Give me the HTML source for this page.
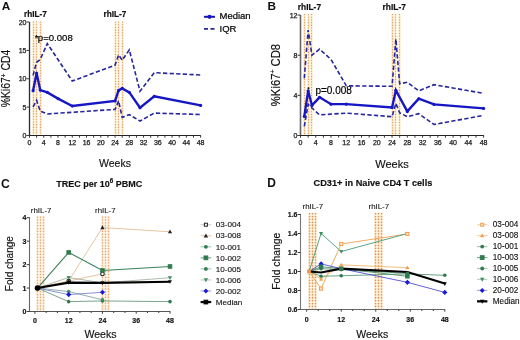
<!DOCTYPE html>
<html><head><meta charset="utf-8"><style>
html,body{margin:0;padding:0;background:#fff;width:520px;height:340px;overflow:hidden}
svg{display:block;will-change:transform}
text{font-family:"Liberation Sans", sans-serif;-webkit-font-smoothing:antialiased}
</style></head><body>
<svg width="520" height="340" viewBox="0 0 520 340">
<rect width="520" height="340" fill="#fff"/>
<text x="1.8" y="9.6" font-size="11.8" text-anchor="start" font-weight="bold" fill="#111" >A</text>
<text x="24" y="17.2" font-size="8.2" text-anchor="start" font-weight="bold" fill="#111" stroke="#111" stroke-width="0.2">rhIL-7</text>
<text x="103.6" y="17.2" font-size="8.2" text-anchor="start" font-weight="bold" fill="#111" stroke="#111" stroke-width="0.2">rhIL-7</text>
<line x1="33.5" y1="21.5" x2="33.5" y2="135.5" stroke="#fff6e4" stroke-width="3"/>
<line x1="33.5" y1="21.5" x2="33.5" y2="135.5" stroke="#fde4c4" stroke-width="1.0"/>
<line x1="33.5" y1="21.5" x2="33.5" y2="135.5" stroke="#e0a060" stroke-width="1.3" stroke-dasharray="1.1 1.6"/>
<line x1="36.5" y1="21.5" x2="36.5" y2="135.5" stroke="#fff6e4" stroke-width="3"/>
<line x1="36.5" y1="21.5" x2="36.5" y2="135.5" stroke="#fde4c4" stroke-width="1.0"/>
<line x1="36.5" y1="21.5" x2="36.5" y2="135.5" stroke="#e0a060" stroke-width="1.3" stroke-dasharray="1.1 1.6"/>
<line x1="40.5" y1="21.5" x2="40.5" y2="135.5" stroke="#fff6e4" stroke-width="3"/>
<line x1="40.5" y1="21.5" x2="40.5" y2="135.5" stroke="#fde4c4" stroke-width="1.0"/>
<line x1="40.5" y1="21.5" x2="40.5" y2="135.5" stroke="#e0a060" stroke-width="1.3" stroke-dasharray="1.1 1.6"/>
<line x1="115.5" y1="21.5" x2="115.5" y2="135.5" stroke="#fff6e4" stroke-width="3"/>
<line x1="115.5" y1="21.5" x2="115.5" y2="135.5" stroke="#fde4c4" stroke-width="1.0"/>
<line x1="115.5" y1="21.5" x2="115.5" y2="135.5" stroke="#e0a060" stroke-width="1.3" stroke-dasharray="1.1 1.6"/>
<line x1="118.5" y1="21.5" x2="118.5" y2="135.5" stroke="#fff6e4" stroke-width="3"/>
<line x1="118.5" y1="21.5" x2="118.5" y2="135.5" stroke="#fde4c4" stroke-width="1.0"/>
<line x1="118.5" y1="21.5" x2="118.5" y2="135.5" stroke="#e0a060" stroke-width="1.3" stroke-dasharray="1.1 1.6"/>
<line x1="122.5" y1="21.5" x2="122.5" y2="135.5" stroke="#fff6e4" stroke-width="3"/>
<line x1="122.5" y1="21.5" x2="122.5" y2="135.5" stroke="#fde4c4" stroke-width="1.0"/>
<line x1="122.5" y1="21.5" x2="122.5" y2="135.5" stroke="#e0a060" stroke-width="1.3" stroke-dasharray="1.1 1.6"/>
<line x1="29.5" y1="22" x2="29.5" y2="136" stroke="#2a2a2a" stroke-width="1.3" />
<line x1="29" y1="135.5" x2="200.9" y2="135.5" stroke="#222" stroke-width="1.2" />
<line x1="26.5" y1="135.5" x2="29.5" y2="135.5" stroke="#3a3a3a" stroke-width="1" />
<text x="26.5" y="138" font-size="7" text-anchor="end" font-weight="normal" fill="#1a1a1a" stroke="#1a1a1a" stroke-width="0.25">0</text>
<line x1="26.5" y1="107.12" x2="29.5" y2="107.12" stroke="#3a3a3a" stroke-width="1" />
<text x="26.5" y="109.62" font-size="7" text-anchor="end" font-weight="normal" fill="#1a1a1a" stroke="#1a1a1a" stroke-width="0.25">5</text>
<line x1="26.5" y1="78.75" x2="29.5" y2="78.75" stroke="#3a3a3a" stroke-width="1" />
<text x="26.5" y="81.25" font-size="7" text-anchor="end" font-weight="normal" fill="#1a1a1a" stroke="#1a1a1a" stroke-width="0.25">10</text>
<line x1="26.5" y1="50.38" x2="29.5" y2="50.38" stroke="#3a3a3a" stroke-width="1" />
<text x="26.5" y="52.88" font-size="7" text-anchor="end" font-weight="normal" fill="#1a1a1a" stroke="#1a1a1a" stroke-width="0.25">15</text>
<line x1="26.5" y1="22" x2="29.5" y2="22" stroke="#3a3a3a" stroke-width="1" />
<text x="26.5" y="24.5" font-size="7" text-anchor="end" font-weight="normal" fill="#1a1a1a" stroke="#1a1a1a" stroke-width="0.25">20</text>
<line x1="29.5" y1="135.5" x2="29.5" y2="137.7" stroke="#3a3a3a" stroke-width="1" />
<line x1="36.63" y1="135.5" x2="36.63" y2="137.7" stroke="#3a3a3a" stroke-width="1" />
<line x1="43.76" y1="135.5" x2="43.76" y2="137.7" stroke="#3a3a3a" stroke-width="1" />
<line x1="50.89" y1="135.5" x2="50.89" y2="137.7" stroke="#3a3a3a" stroke-width="1" />
<line x1="58.02" y1="135.5" x2="58.02" y2="137.7" stroke="#3a3a3a" stroke-width="1" />
<line x1="65.15" y1="135.5" x2="65.15" y2="137.7" stroke="#3a3a3a" stroke-width="1" />
<line x1="72.28" y1="135.5" x2="72.28" y2="137.7" stroke="#3a3a3a" stroke-width="1" />
<line x1="79.4" y1="135.5" x2="79.4" y2="137.7" stroke="#3a3a3a" stroke-width="1" />
<line x1="86.53" y1="135.5" x2="86.53" y2="137.7" stroke="#3a3a3a" stroke-width="1" />
<line x1="93.66" y1="135.5" x2="93.66" y2="137.7" stroke="#3a3a3a" stroke-width="1" />
<line x1="100.79" y1="135.5" x2="100.79" y2="137.7" stroke="#3a3a3a" stroke-width="1" />
<line x1="107.92" y1="135.5" x2="107.92" y2="137.7" stroke="#3a3a3a" stroke-width="1" />
<line x1="115.05" y1="135.5" x2="115.05" y2="137.7" stroke="#3a3a3a" stroke-width="1" />
<line x1="122.18" y1="135.5" x2="122.18" y2="137.7" stroke="#3a3a3a" stroke-width="1" />
<line x1="129.31" y1="135.5" x2="129.31" y2="137.7" stroke="#3a3a3a" stroke-width="1" />
<line x1="136.44" y1="135.5" x2="136.44" y2="137.7" stroke="#3a3a3a" stroke-width="1" />
<line x1="143.57" y1="135.5" x2="143.57" y2="137.7" stroke="#3a3a3a" stroke-width="1" />
<line x1="150.7" y1="135.5" x2="150.7" y2="137.7" stroke="#3a3a3a" stroke-width="1" />
<line x1="157.82" y1="135.5" x2="157.82" y2="137.7" stroke="#3a3a3a" stroke-width="1" />
<line x1="164.95" y1="135.5" x2="164.95" y2="137.7" stroke="#3a3a3a" stroke-width="1" />
<line x1="172.08" y1="135.5" x2="172.08" y2="137.7" stroke="#3a3a3a" stroke-width="1" />
<line x1="179.21" y1="135.5" x2="179.21" y2="137.7" stroke="#3a3a3a" stroke-width="1" />
<line x1="186.34" y1="135.5" x2="186.34" y2="137.7" stroke="#3a3a3a" stroke-width="1" />
<line x1="193.47" y1="135.5" x2="193.47" y2="137.7" stroke="#3a3a3a" stroke-width="1" />
<line x1="200.6" y1="135.5" x2="200.6" y2="137.7" stroke="#3a3a3a" stroke-width="1" />
<text x="29.5" y="144.6" font-size="7" text-anchor="middle" font-weight="normal" fill="#1a1a1a" stroke="#1a1a1a" stroke-width="0.25">0</text>
<text x="43.76" y="144.6" font-size="7" text-anchor="middle" font-weight="normal" fill="#1a1a1a" stroke="#1a1a1a" stroke-width="0.25">4</text>
<text x="58.02" y="144.6" font-size="7" text-anchor="middle" font-weight="normal" fill="#1a1a1a" stroke="#1a1a1a" stroke-width="0.25">8</text>
<text x="72.28" y="144.6" font-size="7" text-anchor="middle" font-weight="normal" fill="#1a1a1a" stroke="#1a1a1a" stroke-width="0.25">12</text>
<text x="86.53" y="144.6" font-size="7" text-anchor="middle" font-weight="normal" fill="#1a1a1a" stroke="#1a1a1a" stroke-width="0.25">16</text>
<text x="100.79" y="144.6" font-size="7" text-anchor="middle" font-weight="normal" fill="#1a1a1a" stroke="#1a1a1a" stroke-width="0.25">20</text>
<text x="115.05" y="144.6" font-size="7" text-anchor="middle" font-weight="normal" fill="#1a1a1a" stroke="#1a1a1a" stroke-width="0.25">24</text>
<text x="129.31" y="144.6" font-size="7" text-anchor="middle" font-weight="normal" fill="#1a1a1a" stroke="#1a1a1a" stroke-width="0.25">28</text>
<text x="143.57" y="144.6" font-size="7" text-anchor="middle" font-weight="normal" fill="#1a1a1a" stroke="#1a1a1a" stroke-width="0.25">32</text>
<text x="157.82" y="144.6" font-size="7" text-anchor="middle" font-weight="normal" fill="#1a1a1a" stroke="#1a1a1a" stroke-width="0.25">36</text>
<text x="172.08" y="144.6" font-size="7" text-anchor="middle" font-weight="normal" fill="#1a1a1a" stroke="#1a1a1a" stroke-width="0.25">40</text>
<text x="186.34" y="144.6" font-size="7" text-anchor="middle" font-weight="normal" fill="#1a1a1a" stroke="#1a1a1a" stroke-width="0.25">44</text>
<text x="200.6" y="144.6" font-size="7" text-anchor="middle" font-weight="normal" fill="#1a1a1a" stroke="#1a1a1a" stroke-width="0.25">48</text>
<text x="115" y="167" font-size="10.5" text-anchor="middle" font-weight="normal" fill="#111" stroke="#111" stroke-width="0.15">Weeks</text>
<text transform="translate(10.2,78.5) scale(1,0.87) rotate(-90)" font-size="12" text-anchor="middle" fill="#111" stroke="#111" stroke-width="0.15">%Ki67<tspan font-size="7.5" dy="-4.6">+</tspan><tspan dy="4.6"> CD4</tspan></text>
<text x="34.8" y="40.5" font-size="9" text-anchor="start" font-weight="bold" fill="#111" >*</text>
<text x="37.8" y="41.3" font-size="9.6" text-anchor="start" font-weight="normal" fill="#000" stroke="#000" stroke-width="0.2">p=0.008</text>
<polyline points="33.06,75.34 36.63,62.29 40.19,59.45 47.32,43.57 72.28,81.02 115.05,65.13 118.61,54.92 122.18,60.31 129.31,49.81 140,91.23 154.26,72.68 200.6,75" fill="none" stroke="#26269e" stroke-width="1.6" stroke-linejoin="miter" stroke-dasharray="4.3 2.3"/>
<polyline points="33.06,106.78 36.63,100.31 40.19,111.1 47.32,113.94 115.05,109.4 118.61,100.88 122.18,117.34 129.31,114.67 140,121.03 154.26,113.08 200.6,114.5" fill="none" stroke="#26269e" stroke-width="1.6" stroke-linejoin="miter" stroke-dasharray="4.3 2.3"/>
<polyline points="33.06,90.67 36.63,73.08 40.19,90.1 47.32,92.37 58.02,98.61 72.28,105.99 115.05,100.88 118.61,90.38 122.18,88.4 129.31,92.37 140,107.69 154.26,96.34 200.6,105.42" fill="none" stroke="#1616c4" stroke-width="2.35" stroke-linejoin="miter" />
<circle cx="33.06" cy="90.67" r="1.6" fill="#1616c4"/>
<circle cx="36.63" cy="73.08" r="1.6" fill="#1616c4"/>
<circle cx="40.19" cy="90.1" r="1.6" fill="#1616c4"/>
<circle cx="47.32" cy="92.37" r="1.6" fill="#1616c4"/>
<circle cx="58.02" cy="98.61" r="1.6" fill="#1616c4"/>
<circle cx="72.28" cy="105.99" r="1.6" fill="#1616c4"/>
<circle cx="115.05" cy="100.88" r="1.6" fill="#1616c4"/>
<circle cx="118.61" cy="90.38" r="1.6" fill="#1616c4"/>
<circle cx="122.18" cy="88.4" r="1.6" fill="#1616c4"/>
<circle cx="129.31" cy="92.37" r="1.6" fill="#1616c4"/>
<circle cx="140" cy="107.69" r="1.6" fill="#1616c4"/>
<circle cx="154.26" cy="96.34" r="1.6" fill="#1616c4"/>
<circle cx="200.6" cy="105.42" r="1.6" fill="#1616c4"/>
<line x1="204" y1="16.8" x2="215" y2="16.8" stroke="#1616c4" stroke-width="2.0" />
<circle cx="209.5" cy="16.8" r="2.1" fill="#1616c4"/>
<text x="219.5" y="18.9" font-size="9.5" text-anchor="start" font-weight="normal" fill="#000" stroke="#000" stroke-width="0.2">Median</text>
<line x1="204" y1="28.9" x2="215" y2="28.9" stroke="#26269e" stroke-width="1.7" stroke-dasharray="4 2.5"/>
<text x="219.5" y="32.3" font-size="9.5" text-anchor="start" font-weight="normal" fill="#000" stroke="#000" stroke-width="0.2">IQR</text>
<text x="267.6" y="9.5" font-size="11.8" text-anchor="start" font-weight="bold" fill="#111" >B</text>
<text x="297.8" y="10.3" font-size="8.4" text-anchor="start" font-weight="bold" fill="#111" stroke="#111" stroke-width="0.2">rhIL-7</text>
<text x="382.6" y="10.3" font-size="8.4" text-anchor="start" font-weight="bold" fill="#111" stroke="#111" stroke-width="0.2">rhIL-7</text>
<line x1="304.5" y1="14" x2="304.5" y2="135.5" stroke="#fff6e4" stroke-width="3"/>
<line x1="304.5" y1="14" x2="304.5" y2="135.5" stroke="#fde4c4" stroke-width="1.0"/>
<line x1="304.5" y1="14" x2="304.5" y2="135.5" stroke="#e0a060" stroke-width="1.3" stroke-dasharray="1.1 1.6"/>
<line x1="308.5" y1="14" x2="308.5" y2="135.5" stroke="#fff6e4" stroke-width="3"/>
<line x1="308.5" y1="14" x2="308.5" y2="135.5" stroke="#fde4c4" stroke-width="1.0"/>
<line x1="308.5" y1="14" x2="308.5" y2="135.5" stroke="#e0a060" stroke-width="1.3" stroke-dasharray="1.1 1.6"/>
<line x1="311.5" y1="14" x2="311.5" y2="135.5" stroke="#fff6e4" stroke-width="3"/>
<line x1="311.5" y1="14" x2="311.5" y2="135.5" stroke="#fde4c4" stroke-width="1.0"/>
<line x1="311.5" y1="14" x2="311.5" y2="135.5" stroke="#e0a060" stroke-width="1.3" stroke-dasharray="1.1 1.6"/>
<line x1="392.5" y1="14" x2="392.5" y2="135.5" stroke="#fff6e4" stroke-width="3"/>
<line x1="392.5" y1="14" x2="392.5" y2="135.5" stroke="#fde4c4" stroke-width="1.0"/>
<line x1="392.5" y1="14" x2="392.5" y2="135.5" stroke="#e0a060" stroke-width="1.3" stroke-dasharray="1.1 1.6"/>
<line x1="395.5" y1="14" x2="395.5" y2="135.5" stroke="#fff6e4" stroke-width="3"/>
<line x1="395.5" y1="14" x2="395.5" y2="135.5" stroke="#fde4c4" stroke-width="1.0"/>
<line x1="395.5" y1="14" x2="395.5" y2="135.5" stroke="#e0a060" stroke-width="1.3" stroke-dasharray="1.1 1.6"/>
<line x1="399.5" y1="14" x2="399.5" y2="135.5" stroke="#fff6e4" stroke-width="3"/>
<line x1="399.5" y1="14" x2="399.5" y2="135.5" stroke="#fde4c4" stroke-width="1.0"/>
<line x1="399.5" y1="14" x2="399.5" y2="135.5" stroke="#e0a060" stroke-width="1.3" stroke-dasharray="1.1 1.6"/>
<line x1="300.5" y1="15" x2="300.5" y2="136" stroke="#666" stroke-width="1.6" />
<line x1="300" y1="135.5" x2="483.9" y2="135.5" stroke="#222" stroke-width="1.2" />
<line x1="297.5" y1="135.5" x2="300.5" y2="135.5" stroke="#3a3a3a" stroke-width="1" />
<text x="297.5" y="138" font-size="7" text-anchor="end" font-weight="normal" fill="#1a1a1a" stroke="#1a1a1a" stroke-width="0.25">0</text>
<line x1="297.5" y1="95.34" x2="300.5" y2="95.34" stroke="#3a3a3a" stroke-width="1" />
<text x="297.5" y="97.84" font-size="7" text-anchor="end" font-weight="normal" fill="#1a1a1a" stroke="#1a1a1a" stroke-width="0.25">4</text>
<line x1="297.5" y1="55.18" x2="300.5" y2="55.18" stroke="#3a3a3a" stroke-width="1" />
<text x="297.5" y="57.68" font-size="7" text-anchor="end" font-weight="normal" fill="#1a1a1a" stroke="#1a1a1a" stroke-width="0.25">8</text>
<line x1="297.5" y1="15.02" x2="300.5" y2="15.02" stroke="#3a3a3a" stroke-width="1" />
<text x="297.5" y="17.52" font-size="7" text-anchor="end" font-weight="normal" fill="#1a1a1a" stroke="#1a1a1a" stroke-width="0.25">12</text>
<line x1="300.5" y1="135.5" x2="300.5" y2="137.7" stroke="#3a3a3a" stroke-width="1" />
<line x1="308.13" y1="135.5" x2="308.13" y2="137.7" stroke="#3a3a3a" stroke-width="1" />
<line x1="315.76" y1="135.5" x2="315.76" y2="137.7" stroke="#3a3a3a" stroke-width="1" />
<line x1="323.39" y1="135.5" x2="323.39" y2="137.7" stroke="#3a3a3a" stroke-width="1" />
<line x1="331.02" y1="135.5" x2="331.02" y2="137.7" stroke="#3a3a3a" stroke-width="1" />
<line x1="338.65" y1="135.5" x2="338.65" y2="137.7" stroke="#3a3a3a" stroke-width="1" />
<line x1="346.27" y1="135.5" x2="346.27" y2="137.7" stroke="#3a3a3a" stroke-width="1" />
<line x1="353.9" y1="135.5" x2="353.9" y2="137.7" stroke="#3a3a3a" stroke-width="1" />
<line x1="361.53" y1="135.5" x2="361.53" y2="137.7" stroke="#3a3a3a" stroke-width="1" />
<line x1="369.16" y1="135.5" x2="369.16" y2="137.7" stroke="#3a3a3a" stroke-width="1" />
<line x1="376.79" y1="135.5" x2="376.79" y2="137.7" stroke="#3a3a3a" stroke-width="1" />
<line x1="384.42" y1="135.5" x2="384.42" y2="137.7" stroke="#3a3a3a" stroke-width="1" />
<line x1="392.05" y1="135.5" x2="392.05" y2="137.7" stroke="#3a3a3a" stroke-width="1" />
<line x1="399.68" y1="135.5" x2="399.68" y2="137.7" stroke="#3a3a3a" stroke-width="1" />
<line x1="407.31" y1="135.5" x2="407.31" y2="137.7" stroke="#3a3a3a" stroke-width="1" />
<line x1="414.94" y1="135.5" x2="414.94" y2="137.7" stroke="#3a3a3a" stroke-width="1" />
<line x1="422.57" y1="135.5" x2="422.57" y2="137.7" stroke="#3a3a3a" stroke-width="1" />
<line x1="430.2" y1="135.5" x2="430.2" y2="137.7" stroke="#3a3a3a" stroke-width="1" />
<line x1="437.83" y1="135.5" x2="437.83" y2="137.7" stroke="#3a3a3a" stroke-width="1" />
<line x1="445.45" y1="135.5" x2="445.45" y2="137.7" stroke="#3a3a3a" stroke-width="1" />
<line x1="453.08" y1="135.5" x2="453.08" y2="137.7" stroke="#3a3a3a" stroke-width="1" />
<line x1="460.71" y1="135.5" x2="460.71" y2="137.7" stroke="#3a3a3a" stroke-width="1" />
<line x1="468.34" y1="135.5" x2="468.34" y2="137.7" stroke="#3a3a3a" stroke-width="1" />
<line x1="475.97" y1="135.5" x2="475.97" y2="137.7" stroke="#3a3a3a" stroke-width="1" />
<line x1="483.6" y1="135.5" x2="483.6" y2="137.7" stroke="#3a3a3a" stroke-width="1" />
<text x="300.5" y="144.6" font-size="7" text-anchor="middle" font-weight="normal" fill="#1a1a1a" stroke="#1a1a1a" stroke-width="0.25">0</text>
<text x="315.76" y="144.6" font-size="7" text-anchor="middle" font-weight="normal" fill="#1a1a1a" stroke="#1a1a1a" stroke-width="0.25">4</text>
<text x="331.02" y="144.6" font-size="7" text-anchor="middle" font-weight="normal" fill="#1a1a1a" stroke="#1a1a1a" stroke-width="0.25">8</text>
<text x="346.27" y="144.6" font-size="7" text-anchor="middle" font-weight="normal" fill="#1a1a1a" stroke="#1a1a1a" stroke-width="0.25">12</text>
<text x="361.53" y="144.6" font-size="7" text-anchor="middle" font-weight="normal" fill="#1a1a1a" stroke="#1a1a1a" stroke-width="0.25">16</text>
<text x="376.79" y="144.6" font-size="7" text-anchor="middle" font-weight="normal" fill="#1a1a1a" stroke="#1a1a1a" stroke-width="0.25">20</text>
<text x="392.05" y="144.6" font-size="7" text-anchor="middle" font-weight="normal" fill="#1a1a1a" stroke="#1a1a1a" stroke-width="0.25">24</text>
<text x="407.31" y="144.6" font-size="7" text-anchor="middle" font-weight="normal" fill="#1a1a1a" stroke="#1a1a1a" stroke-width="0.25">28</text>
<text x="422.57" y="144.6" font-size="7" text-anchor="middle" font-weight="normal" fill="#1a1a1a" stroke="#1a1a1a" stroke-width="0.25">32</text>
<text x="437.83" y="144.6" font-size="7" text-anchor="middle" font-weight="normal" fill="#1a1a1a" stroke="#1a1a1a" stroke-width="0.25">36</text>
<text x="453.08" y="144.6" font-size="7" text-anchor="middle" font-weight="normal" fill="#1a1a1a" stroke="#1a1a1a" stroke-width="0.25">40</text>
<text x="468.34" y="144.6" font-size="7" text-anchor="middle" font-weight="normal" fill="#1a1a1a" stroke="#1a1a1a" stroke-width="0.25">44</text>
<text x="483.6" y="144.6" font-size="7" text-anchor="middle" font-weight="normal" fill="#1a1a1a" stroke="#1a1a1a" stroke-width="0.25">48</text>
<text x="392" y="168.2" font-size="11" text-anchor="middle" font-weight="normal" fill="#111" stroke="#111" stroke-width="0.15">Weeks</text>
<text transform="translate(280.2,75) scale(1,0.88) rotate(-90)" font-size="12.8" text-anchor="middle" fill="#111" stroke="#111" stroke-width="0.15">%Ki67<tspan font-size="8" dy="-5">+</tspan><tspan dy="5"> CD8</tspan></text>
<text x="315.4" y="94" font-size="10" text-anchor="start" font-weight="normal" fill="#000" stroke="#000" stroke-width="0.2">p=0.008</text>
<polyline points="304.31,78.27 308.13,30.08 311.94,55.18 319.57,49.16 331.02,59.4 346.27,85.8 392.05,86.3 395.86,39.12 399.68,83.79 407.31,82.29 418.75,90.82 434.01,84.7 483.6,93.33" fill="none" stroke="#26269e" stroke-width="1.6" stroke-linejoin="miter" stroke-dasharray="4.3 2.3"/>
<polyline points="304.31,126.46 308.13,104.38 319.57,114.92 346.27,113.11 392.05,116.73 395.86,103.37 399.68,112.91 407.31,116.73 418.75,113.71 434.01,124.46 483.6,115.42" fill="none" stroke="#26269e" stroke-width="1.6" stroke-linejoin="miter" stroke-dasharray="4.3 2.3"/>
<polyline points="304.31,116.42 308.13,90.82 311.94,105.38 319.57,97.35 331.02,104.18 346.27,104.18 392.05,107.39 395.86,90.32 407.31,111.4 418.75,98.75 434.01,104.38 483.6,108.39" fill="none" stroke="#1616c4" stroke-width="2.35" stroke-linejoin="miter" />
<circle cx="304.31" cy="116.42" r="1.6" fill="#1616c4"/>
<circle cx="308.13" cy="90.82" r="1.6" fill="#1616c4"/>
<circle cx="311.94" cy="105.38" r="1.6" fill="#1616c4"/>
<circle cx="319.57" cy="97.35" r="1.6" fill="#1616c4"/>
<circle cx="331.02" cy="104.18" r="1.6" fill="#1616c4"/>
<circle cx="346.27" cy="104.18" r="1.6" fill="#1616c4"/>
<circle cx="392.05" cy="107.39" r="1.6" fill="#1616c4"/>
<circle cx="395.86" cy="90.32" r="1.6" fill="#1616c4"/>
<circle cx="407.31" cy="111.4" r="1.6" fill="#1616c4"/>
<circle cx="418.75" cy="98.75" r="1.6" fill="#1616c4"/>
<circle cx="434.01" cy="104.38" r="1.6" fill="#1616c4"/>
<circle cx="483.6" cy="108.39" r="1.6" fill="#1616c4"/>
<circle cx="308.5" cy="88.3" r="1.0" fill="#111"/>
<text x="1" y="187.5" font-size="12.2" text-anchor="start" font-weight="bold" fill="#111" >C</text>
<text x="56.3" y="186.7" font-size="9" font-weight="bold" fill="#111" stroke="#111" stroke-width="0.15">TREC per 10<tspan font-size="6.3" dy="-3.6">6</tspan><tspan dy="3.6"> PBMC</tspan></text>
<text x="30.8" y="213.2" font-size="7.9" text-anchor="start" font-weight="normal" fill="#111" stroke="#111" stroke-width="0.1">rhIL-7</text>
<text x="95" y="213.2" font-size="7.9" text-anchor="start" font-weight="normal" fill="#111" stroke="#111" stroke-width="0.1">rhIL-7</text>
<line x1="37.5" y1="216.5" x2="37.5" y2="311.5" stroke="#fff6ea" stroke-width="3"/>
<line x1="37.5" y1="216.5" x2="37.5" y2="311.5" stroke="#fde8d0" stroke-width="1.0"/>
<line x1="37.5" y1="216.5" x2="37.5" y2="311.5" stroke="#e4a470" stroke-width="1.4" stroke-dasharray="1.2 1.67"/>
<line x1="40.5" y1="216.5" x2="40.5" y2="311.5" stroke="#fff6ea" stroke-width="3"/>
<line x1="40.5" y1="216.5" x2="40.5" y2="311.5" stroke="#fde8d0" stroke-width="1.0"/>
<line x1="40.5" y1="216.5" x2="40.5" y2="311.5" stroke="#e4a470" stroke-width="1.4" stroke-dasharray="1.2 1.67"/>
<line x1="43.5" y1="216.5" x2="43.5" y2="311.5" stroke="#fff6ea" stroke-width="3"/>
<line x1="43.5" y1="216.5" x2="43.5" y2="311.5" stroke="#fde8d0" stroke-width="1.0"/>
<line x1="43.5" y1="216.5" x2="43.5" y2="311.5" stroke="#e4a470" stroke-width="1.4" stroke-dasharray="1.2 1.67"/>
<line x1="102.5" y1="216.5" x2="102.5" y2="311.5" stroke="#fff6ea" stroke-width="3"/>
<line x1="102.5" y1="216.5" x2="102.5" y2="311.5" stroke="#fde8d0" stroke-width="1.0"/>
<line x1="102.5" y1="216.5" x2="102.5" y2="311.5" stroke="#e4a470" stroke-width="1.4" stroke-dasharray="1.2 1.67"/>
<line x1="105.5" y1="216.5" x2="105.5" y2="311.5" stroke="#fff6ea" stroke-width="3"/>
<line x1="105.5" y1="216.5" x2="105.5" y2="311.5" stroke="#fde8d0" stroke-width="1.0"/>
<line x1="105.5" y1="216.5" x2="105.5" y2="311.5" stroke="#e4a470" stroke-width="1.4" stroke-dasharray="1.2 1.67"/>
<line x1="108.5" y1="216.5" x2="108.5" y2="311.5" stroke="#fff6ea" stroke-width="3"/>
<line x1="108.5" y1="216.5" x2="108.5" y2="311.5" stroke="#fde8d0" stroke-width="1.0"/>
<line x1="108.5" y1="216.5" x2="108.5" y2="311.5" stroke="#e4a470" stroke-width="1.4" stroke-dasharray="1.2 1.67"/>
<line x1="29.5" y1="217.3" x2="29.5" y2="312" stroke="#666" stroke-width="1.1" />
<line x1="29" y1="311.5" x2="170.3" y2="311.5" stroke="#555" stroke-width="1.1" />
<line x1="26.7" y1="311.5" x2="29.5" y2="311.5" stroke="#3a3a3a" stroke-width="1" />
<text x="26.5" y="314.1" font-size="7" text-anchor="end" font-weight="bold" fill="#111" stroke="#111" stroke-width="0.15">0</text>
<line x1="26.7" y1="288.05" x2="29.5" y2="288.05" stroke="#3a3a3a" stroke-width="1" />
<text x="26.5" y="290.65" font-size="7" text-anchor="end" font-weight="bold" fill="#111" stroke="#111" stroke-width="0.15">1</text>
<line x1="26.7" y1="264.6" x2="29.5" y2="264.6" stroke="#3a3a3a" stroke-width="1" />
<text x="26.5" y="267.2" font-size="7" text-anchor="end" font-weight="bold" fill="#111" stroke="#111" stroke-width="0.15">2</text>
<line x1="26.7" y1="241.15" x2="29.5" y2="241.15" stroke="#3a3a3a" stroke-width="1" />
<text x="26.5" y="243.75" font-size="7" text-anchor="end" font-weight="bold" fill="#111" stroke="#111" stroke-width="0.15">3</text>
<line x1="26.7" y1="217.7" x2="29.5" y2="217.7" stroke="#3a3a3a" stroke-width="1" />
<text x="26.5" y="220.3" font-size="7" text-anchor="end" font-weight="bold" fill="#111" stroke="#111" stroke-width="0.15">4</text>
<line x1="34.9" y1="311.5" x2="34.9" y2="313.7" stroke="#3a3a3a" stroke-width="1" />
<line x1="46.16" y1="311.5" x2="46.16" y2="313" stroke="#3a3a3a" stroke-width="1" />
<line x1="57.42" y1="311.5" x2="57.42" y2="313" stroke="#3a3a3a" stroke-width="1" />
<line x1="68.67" y1="311.5" x2="68.67" y2="313.7" stroke="#3a3a3a" stroke-width="1" />
<line x1="79.93" y1="311.5" x2="79.93" y2="313" stroke="#3a3a3a" stroke-width="1" />
<line x1="91.19" y1="311.5" x2="91.19" y2="313" stroke="#3a3a3a" stroke-width="1" />
<line x1="102.45" y1="311.5" x2="102.45" y2="313.7" stroke="#3a3a3a" stroke-width="1" />
<line x1="113.71" y1="311.5" x2="113.71" y2="313" stroke="#3a3a3a" stroke-width="1" />
<line x1="124.97" y1="311.5" x2="124.97" y2="313" stroke="#3a3a3a" stroke-width="1" />
<line x1="136.22" y1="311.5" x2="136.22" y2="313.7" stroke="#3a3a3a" stroke-width="1" />
<line x1="147.48" y1="311.5" x2="147.48" y2="313" stroke="#3a3a3a" stroke-width="1" />
<line x1="158.74" y1="311.5" x2="158.74" y2="313" stroke="#3a3a3a" stroke-width="1" />
<line x1="170" y1="311.5" x2="170" y2="313.7" stroke="#3a3a3a" stroke-width="1" />
<text x="34.9" y="323.4" font-size="7" text-anchor="middle" font-weight="bold" fill="#111" stroke="#111" stroke-width="0.15">0</text>
<text x="68.67" y="323.4" font-size="7" text-anchor="middle" font-weight="bold" fill="#111" stroke="#111" stroke-width="0.15">12</text>
<text x="102.45" y="323.4" font-size="7" text-anchor="middle" font-weight="bold" fill="#111" stroke="#111" stroke-width="0.15">24</text>
<text x="136.22" y="323.4" font-size="7" text-anchor="middle" font-weight="bold" fill="#111" stroke="#111" stroke-width="0.15">36</text>
<text x="170" y="323.4" font-size="7" text-anchor="middle" font-weight="bold" fill="#111" stroke="#111" stroke-width="0.15">48</text>
<text x="100.5" y="338.4" font-size="10.6" text-anchor="middle" font-weight="normal" fill="#111" stroke="#111" stroke-width="0.15">Weeks</text>
<text transform="translate(12.6,263.7) rotate(-90)" font-size="10" text-anchor="middle" fill="#111" stroke="#111" stroke-width="0.15">Fold change</text>
<polyline points="37.5,288.05 68.67,281.01 102.45,273.98" fill="none" stroke="#e6bc94" stroke-width="0.9" stroke-linejoin="miter" />
<polyline points="37.5,288.05 68.67,281.01 102.45,227.55 170,231.77" fill="none" stroke="#e6bc94" stroke-width="0.9" stroke-linejoin="miter" />
<polyline points="37.5,288.05 68.67,301.65 102.45,300.95 170,301.65" fill="none" stroke="#6a9a80" stroke-width="0.9" stroke-linejoin="miter" />
<polyline points="37.5,288.05 68.67,252.41 102.45,270.46 170,266.48" fill="none" stroke="#3a8058" stroke-width="1.1" stroke-linejoin="miter" />
<polyline points="37.5,288.05 68.67,291.57 102.45,299.77" fill="none" stroke="#7a9a98" stroke-width="0.8" stroke-linejoin="miter" />
<polyline points="37.5,288.05 68.67,277.5 102.45,282.89 170,277.73" fill="none" stroke="#9aaa98" stroke-width="0.8" stroke-linejoin="miter" />
<polyline points="37.5,288.05 68.67,294.62 102.45,292.27" fill="none" stroke="#7a86c8" stroke-width="0.9" stroke-linejoin="miter" />
<circle cx="68.67" cy="281.01" r="1.8" fill="#fff" stroke="#222" stroke-width="1.1"/>
<circle cx="102.45" cy="273.98" r="1.8" fill="#fff" stroke="#222" stroke-width="1.1"/>
<polygon points="68.67,278.81 70.77,282.62 66.58,282.62" fill="#222"/>
<polygon points="102.45,225.35 104.55,229.15 100.35,229.15" fill="#222"/>
<polygon points="170,229.57 172.1,233.37 167.9,233.37" fill="#222"/>
<circle cx="68.67" cy="301.65" r="1.8" fill="#2f7a4e"/>
<circle cx="102.45" cy="300.95" r="1.8" fill="#2f7a4e"/>
<circle cx="170" cy="301.65" r="1.8" fill="#2f7a4e"/>
<rect x="66.88" y="250.61" width="3.6" height="3.6" fill="#2f7a4e" stroke="#2f7a4e" stroke-width="0.9"/>
<rect x="100.65" y="268.66" width="3.6" height="3.6" fill="#2f7a4e" stroke="#2f7a4e" stroke-width="0.9"/>
<rect x="168.2" y="264.68" width="3.6" height="3.6" fill="#2f7a4e" stroke="#2f7a4e" stroke-width="0.9"/>
<circle cx="68.67" cy="291.57" r="1.8" fill="#3f8f60"/>
<circle cx="102.45" cy="299.77" r="1.8" fill="#3f8f60"/>
<polygon points="68.67,279.7 70.77,275.9 66.58,275.9" fill="#3f8f60"/>
<polygon points="102.45,285.09 104.55,281.29 100.35,281.29" fill="#3f8f60"/>
<polygon points="170,279.93 172.1,276.13 167.9,276.13" fill="#3f8f60"/>
<polygon points="68.67,292.02 71.27,294.62 68.67,297.22 66.08,294.62" fill="#1a1ad8"/>
<polygon points="102.45,289.67 105.05,292.27 102.45,294.87 99.85,292.27" fill="#1a1ad8"/>
<polyline points="37.5,288.05 68.67,282.66 102.45,282.89 170,281.72" fill="none" stroke="#000" stroke-width="2.1" stroke-linejoin="miter" />
<polygon points="68.67,284.66 70.57,281.26 66.78,281.26" fill="#000"/>
<polygon points="102.45,284.89 104.35,281.49 100.55,281.49" fill="#000"/>
<polygon points="170,283.72 171.9,280.32 168.1,280.32" fill="#000"/>
<circle cx="37.5" cy="288.05" r="2.8" fill="#000"/>
<line x1="200.6" y1="224.7" x2="211.2" y2="224.7" stroke="#d0d0d0" stroke-width="1.2" />
<rect x="204.4" y="223.2" width="3" height="3" fill="#fff" stroke="#222" stroke-width="1"/>
<text x="215.8" y="227.4" font-size="8.1" text-anchor="start" font-weight="normal" fill="#111" stroke="#111" stroke-width="0.12">03-004</text>
<line x1="200.6" y1="235.75" x2="211.2" y2="235.75" stroke="#e8d0bc" stroke-width="1.2" />
<polygon points="205.9,233.45 208.1,237.45 203.7,237.45" fill="#222"/>
<text x="215.8" y="238.45" font-size="8.1" text-anchor="start" font-weight="normal" fill="#111" stroke="#111" stroke-width="0.12">03-008</text>
<line x1="200.6" y1="246.8" x2="211.2" y2="246.8" stroke="#a8c8b4" stroke-width="1.2" />
<circle cx="205.9" cy="246.8" r="1.9" fill="#2f7a4e"/>
<text x="215.8" y="249.5" font-size="8.1" text-anchor="start" font-weight="normal" fill="#111" stroke="#111" stroke-width="0.12">10-001</text>
<line x1="200.6" y1="257.85" x2="211.2" y2="257.85" stroke="#80b090" stroke-width="1.2" />
<rect x="204" y="255.95" width="3.8" height="3.8" fill="#2f7a4e" stroke="#2f7a4e" stroke-width="0.9"/>
<text x="215.8" y="260.55" font-size="8.1" text-anchor="start" font-weight="normal" fill="#111" stroke="#111" stroke-width="0.12">10-002</text>
<line x1="200.6" y1="268.9" x2="211.2" y2="268.9" stroke="#a8c8b4" stroke-width="1.2" />
<circle cx="205.9" cy="268.9" r="1.9" fill="#2f7a4e"/>
<text x="215.8" y="271.6" font-size="8.1" text-anchor="start" font-weight="normal" fill="#111" stroke="#111" stroke-width="0.12">10-005</text>
<line x1="200.6" y1="279.95" x2="211.2" y2="279.95" stroke="#c0d0c4" stroke-width="1.2" />
<polygon points="205.9,282.25 208.1,278.25 203.7,278.25" fill="#3f8f60"/>
<text x="215.8" y="282.65" font-size="8.1" text-anchor="start" font-weight="normal" fill="#111" stroke="#111" stroke-width="0.12">10-006</text>
<line x1="200.6" y1="291" x2="211.2" y2="291" stroke="#a8b0e0" stroke-width="1.2" />
<polygon points="205.9,288.5 208.4,291 205.9,293.5 203.4,291" fill="#1a1ad8"/>
<text x="215.8" y="293.7" font-size="8.1" text-anchor="start" font-weight="normal" fill="#111" stroke="#111" stroke-width="0.12">20-002</text>
<line x1="200.6" y1="302.05" x2="211.2" y2="302.05" stroke="#000" stroke-width="2.2" />
<rect x="204" y="300.15" width="3.8" height="3.8" fill="#000" stroke="#000" stroke-width="0.9"/>
<text x="215.8" y="304.75" font-size="8.1" text-anchor="start" font-weight="normal" fill="#111" stroke="#111" stroke-width="0.12">Median</text>
<text x="267.3" y="187" font-size="12" text-anchor="start" font-weight="bold" fill="#111" >D</text>
<text x="313.6" y="185.8" font-size="9.2" text-anchor="start" font-weight="bold" fill="#111" stroke="#111" stroke-width="0.15">CD31+ in Naive CD4 T cells</text>
<text x="302.5" y="209" font-size="7.9" text-anchor="start" font-weight="normal" fill="#111" stroke="#111" stroke-width="0.1">rhIL-7</text>
<text x="368.5" y="209" font-size="7.9" text-anchor="start" font-weight="normal" fill="#111" stroke="#111" stroke-width="0.1">rhIL-7</text>
<line x1="309.5" y1="213" x2="309.5" y2="309.5" stroke="#fff4e2" stroke-width="3"/>
<line x1="309.5" y1="213" x2="309.5" y2="309.5" stroke="#fde0bc" stroke-width="1.0"/>
<line x1="309.5" y1="213" x2="309.5" y2="309.5" stroke="#d8925c" stroke-width="1.5" stroke-dasharray="1.3 1.6"/>
<line x1="312.5" y1="213" x2="312.5" y2="309.5" stroke="#fff4e2" stroke-width="3"/>
<line x1="312.5" y1="213" x2="312.5" y2="309.5" stroke="#fde0bc" stroke-width="1.0"/>
<line x1="312.5" y1="213" x2="312.5" y2="309.5" stroke="#d8925c" stroke-width="1.5" stroke-dasharray="1.3 1.6"/>
<line x1="315.5" y1="213" x2="315.5" y2="309.5" stroke="#fff4e2" stroke-width="3"/>
<line x1="315.5" y1="213" x2="315.5" y2="309.5" stroke="#fde0bc" stroke-width="1.0"/>
<line x1="315.5" y1="213" x2="315.5" y2="309.5" stroke="#d8925c" stroke-width="1.5" stroke-dasharray="1.3 1.6"/>
<line x1="375.5" y1="213" x2="375.5" y2="309.5" stroke="#fff4e2" stroke-width="3"/>
<line x1="375.5" y1="213" x2="375.5" y2="309.5" stroke="#fde0bc" stroke-width="1.0"/>
<line x1="375.5" y1="213" x2="375.5" y2="309.5" stroke="#d8925c" stroke-width="1.5" stroke-dasharray="1.3 1.6"/>
<line x1="378.5" y1="213" x2="378.5" y2="309.5" stroke="#fff4e2" stroke-width="3"/>
<line x1="378.5" y1="213" x2="378.5" y2="309.5" stroke="#fde0bc" stroke-width="1.0"/>
<line x1="378.5" y1="213" x2="378.5" y2="309.5" stroke="#d8925c" stroke-width="1.5" stroke-dasharray="1.3 1.6"/>
<line x1="381.5" y1="213" x2="381.5" y2="309.5" stroke="#fff4e2" stroke-width="3"/>
<line x1="381.5" y1="213" x2="381.5" y2="309.5" stroke="#fde0bc" stroke-width="1.0"/>
<line x1="381.5" y1="213" x2="381.5" y2="309.5" stroke="#d8925c" stroke-width="1.5" stroke-dasharray="1.3 1.6"/>
<line x1="300.5" y1="213.8" x2="300.5" y2="310" stroke="#777" stroke-width="1.1" />
<line x1="300" y1="309.5" x2="445.1" y2="309.5" stroke="#666" stroke-width="1.1" />
<line x1="297.7" y1="309.5" x2="300.5" y2="309.5" stroke="#3a3a3a" stroke-width="1" />
<text x="297.5" y="312.1" font-size="7" text-anchor="end" font-weight="bold" fill="#111" stroke="#111" stroke-width="0.15">0.6</text>
<line x1="297.7" y1="290.5" x2="300.5" y2="290.5" stroke="#3a3a3a" stroke-width="1" />
<text x="297.5" y="293.1" font-size="7" text-anchor="end" font-weight="bold" fill="#111" stroke="#111" stroke-width="0.15">0.8</text>
<line x1="297.7" y1="271.5" x2="300.5" y2="271.5" stroke="#3a3a3a" stroke-width="1" />
<text x="297.5" y="274.1" font-size="7" text-anchor="end" font-weight="bold" fill="#111" stroke="#111" stroke-width="0.15">1.0</text>
<line x1="297.7" y1="252.5" x2="300.5" y2="252.5" stroke="#3a3a3a" stroke-width="1" />
<text x="297.5" y="255.1" font-size="7" text-anchor="end" font-weight="bold" fill="#111" stroke="#111" stroke-width="0.15">1.2</text>
<line x1="297.7" y1="233.5" x2="300.5" y2="233.5" stroke="#3a3a3a" stroke-width="1" />
<text x="297.5" y="236.1" font-size="7" text-anchor="end" font-weight="bold" fill="#111" stroke="#111" stroke-width="0.15">1.4</text>
<line x1="297.7" y1="214.5" x2="300.5" y2="214.5" stroke="#3a3a3a" stroke-width="1" />
<text x="297.5" y="217.1" font-size="7" text-anchor="end" font-weight="bold" fill="#111" stroke="#111" stroke-width="0.15">1.6</text>
<line x1="306.7" y1="309.5" x2="306.7" y2="311.7" stroke="#3a3a3a" stroke-width="1" />
<line x1="318.21" y1="309.5" x2="318.21" y2="311" stroke="#3a3a3a" stroke-width="1" />
<line x1="329.72" y1="309.5" x2="329.72" y2="311" stroke="#3a3a3a" stroke-width="1" />
<line x1="341.23" y1="309.5" x2="341.23" y2="311.7" stroke="#3a3a3a" stroke-width="1" />
<line x1="352.73" y1="309.5" x2="352.73" y2="311" stroke="#3a3a3a" stroke-width="1" />
<line x1="364.24" y1="309.5" x2="364.24" y2="311" stroke="#3a3a3a" stroke-width="1" />
<line x1="375.75" y1="309.5" x2="375.75" y2="311.7" stroke="#3a3a3a" stroke-width="1" />
<line x1="387.26" y1="309.5" x2="387.26" y2="311" stroke="#3a3a3a" stroke-width="1" />
<line x1="398.77" y1="309.5" x2="398.77" y2="311" stroke="#3a3a3a" stroke-width="1" />
<line x1="410.27" y1="309.5" x2="410.27" y2="311.7" stroke="#3a3a3a" stroke-width="1" />
<line x1="421.78" y1="309.5" x2="421.78" y2="311" stroke="#3a3a3a" stroke-width="1" />
<line x1="433.29" y1="309.5" x2="433.29" y2="311" stroke="#3a3a3a" stroke-width="1" />
<line x1="444.8" y1="309.5" x2="444.8" y2="311.7" stroke="#3a3a3a" stroke-width="1" />
<text x="306.7" y="321.8" font-size="7" text-anchor="middle" font-weight="bold" fill="#111" stroke="#111" stroke-width="0.15">0</text>
<text x="341.23" y="321.8" font-size="7" text-anchor="middle" font-weight="bold" fill="#111" stroke="#111" stroke-width="0.15">12</text>
<text x="375.75" y="321.8" font-size="7" text-anchor="middle" font-weight="bold" fill="#111" stroke="#111" stroke-width="0.15">24</text>
<text x="410.27" y="321.8" font-size="7" text-anchor="middle" font-weight="bold" fill="#111" stroke="#111" stroke-width="0.15">36</text>
<text x="444.8" y="321.8" font-size="7" text-anchor="middle" font-weight="bold" fill="#111" stroke="#111" stroke-width="0.15">48</text>
<text x="372.2" y="338.4" font-size="10.5" text-anchor="middle" font-weight="normal" fill="#111" stroke="#111" stroke-width="0.15">Weeks</text>
<text transform="translate(279.7,261.2) rotate(-90)" font-size="10.4" text-anchor="middle" fill="#111" stroke="#111" stroke-width="0.15">Fold change</text>
<polyline points="309.1,271.5 321.09,288.6 341.23,243.95 407.4,233.97" fill="none" stroke="#f0a050" stroke-width="0.9" stroke-linejoin="miter" />
<polyline points="309.1,271.5 321.09,279.1 341.23,264.85 407.4,267.7" fill="none" stroke="#f0b870" stroke-width="0.9" stroke-linejoin="miter" />
<polyline points="309.1,271.5 321.09,276.25 341.23,275.77 407.4,273.88 444.8,275.3" fill="none" stroke="#5a9a78" stroke-width="0.9" stroke-linejoin="miter" />
<polyline points="309.1,271.5 321.09,266.75 341.23,268.65 407.4,276.25" fill="none" stroke="#4a9068" stroke-width="0.9" stroke-linejoin="miter" />
<polyline points="309.1,271.5 321.09,268.65 341.23,269.6 407.4,273.4" fill="none" stroke="#5a9a78" stroke-width="0.9" stroke-linejoin="miter" />
<polyline points="309.1,271.5 321.09,233.5 341.23,251.55 407.4,233.5" fill="none" stroke="#4a9a78" stroke-width="0.9" stroke-linejoin="miter" />
<polyline points="309.1,271.5 321.09,263.9 341.23,268.65 407.4,282.33 444.8,292.4" fill="none" stroke="#3a3ad0" stroke-width="0.8" stroke-linejoin="miter" />
<polyline points="309.1,271.5 321.09,272.45 341.23,268.65 407.4,271.98 444.8,283.38" fill="none" stroke="#000" stroke-width="2.1" stroke-linejoin="miter" />
<polygon points="321.09,261.3 323.69,263.9 321.09,266.5 318.49,263.9" fill="#1a1ad8"/>
<polygon points="341.23,266.05 343.83,268.65 341.23,271.25 338.62,268.65" fill="#1a1ad8"/>
<polygon points="407.4,279.73 410,282.33 407.4,284.93 404.8,282.33" fill="#1a1ad8"/>
<polygon points="444.8,289.8 447.4,292.4 444.8,295 442.2,292.4" fill="#1a1ad8"/>
<polygon points="321.09,235.7 323.19,231.9 318.99,231.9" fill="#3f8f60"/>
<polygon points="341.23,253.75 343.33,249.95 339.12,249.95" fill="#3f8f60"/>
<polygon points="407.4,235.7 409.5,231.9 405.3,231.9" fill="#3f8f60"/>
<circle cx="321.09" cy="268.65" r="1.8" fill="#2f7a4e"/>
<circle cx="341.23" cy="269.6" r="1.8" fill="#2f7a4e"/>
<circle cx="407.4" cy="273.4" r="1.8" fill="#2f7a4e"/>
<rect x="319.29" y="264.95" width="3.6" height="3.6" fill="#2f7a4e" stroke="#2f7a4e" stroke-width="0.9"/>
<rect x="339.43" y="266.85" width="3.6" height="3.6" fill="#2f7a4e" stroke="#2f7a4e" stroke-width="0.9"/>
<rect x="405.6" y="274.45" width="3.6" height="3.6" fill="#2f7a4e" stroke="#2f7a4e" stroke-width="0.9"/>
<circle cx="321.09" cy="276.25" r="1.8" fill="#2f7a4e"/>
<circle cx="341.23" cy="275.77" r="1.8" fill="#2f7a4e"/>
<circle cx="407.4" cy="273.88" r="1.8" fill="#2f7a4e"/>
<circle cx="444.8" cy="275.3" r="1.8" fill="#2f7a4e"/>
<polygon points="321.09,276.9 323.19,280.7 318.99,280.7" fill="#f0a050"/>
<polygon points="341.23,262.65 343.33,266.45 339.12,266.45" fill="#f0a050"/>
<polygon points="407.4,265.5 409.5,269.3 405.3,269.3" fill="#f0a050"/>
<rect x="319.49" y="287" width="3.2" height="3.2" fill="#fde2c4" stroke="#f0a050" stroke-width="1"/>
<rect x="339.62" y="242.35" width="3.2" height="3.2" fill="#fde2c4" stroke="#f0a050" stroke-width="1"/>
<rect x="405.8" y="232.38" width="3.2" height="3.2" fill="#fde2c4" stroke="#f0a050" stroke-width="1"/>
<polygon points="444.8,285.95 446.8,282.35 442.8,282.35" fill="#000"/>
<rect x="307.6" y="270" width="3" height="3" fill="#e89850" stroke="#e89850" stroke-width="0.9"/>
<line x1="477" y1="224.7" x2="487.4" y2="224.7" stroke="#f8d0a8" stroke-width="1.2" />
<rect x="480.7" y="223.2" width="3" height="3" fill="#fde2c4" stroke="#f0a050" stroke-width="1"/>
<text x="492.8" y="227.4" font-size="8.2" text-anchor="start" font-weight="normal" fill="#111" stroke="#111" stroke-width="0.12">03-004</text>
<line x1="477" y1="235.65" x2="487.4" y2="235.65" stroke="#f8d0a8" stroke-width="1.2" />
<polygon points="482.2,233.35 484.4,237.35 480,237.35" fill="#f0a050"/>
<text x="492.8" y="238.35" font-size="8.2" text-anchor="start" font-weight="normal" fill="#111" stroke="#111" stroke-width="0.12">03-008</text>
<line x1="477" y1="246.6" x2="487.4" y2="246.6" stroke="#a8c8b4" stroke-width="1.2" />
<circle cx="482.2" cy="246.6" r="1.9" fill="#2f7a4e"/>
<text x="492.8" y="249.3" font-size="8.2" text-anchor="start" font-weight="normal" fill="#111" stroke="#111" stroke-width="0.12">10-001</text>
<line x1="477" y1="257.55" x2="487.4" y2="257.55" stroke="#80b090" stroke-width="1.2" />
<rect x="480.3" y="255.65" width="3.8" height="3.8" fill="#2f7a4e" stroke="#2f7a4e" stroke-width="0.9"/>
<text x="492.8" y="260.25" font-size="8.2" text-anchor="start" font-weight="normal" fill="#111" stroke="#111" stroke-width="0.12">10-003</text>
<line x1="477" y1="268.5" x2="487.4" y2="268.5" stroke="#a8c8b4" stroke-width="1.2" />
<circle cx="482.2" cy="268.5" r="1.9" fill="#2f7a4e"/>
<text x="492.8" y="271.2" font-size="8.2" text-anchor="start" font-weight="normal" fill="#111" stroke="#111" stroke-width="0.12">10-005</text>
<line x1="477" y1="279.45" x2="487.4" y2="279.45" stroke="#c0d0c4" stroke-width="1.2" />
<polygon points="482.2,281.75 484.4,277.75 480,277.75" fill="#3f8f60"/>
<text x="492.8" y="282.15" font-size="8.2" text-anchor="start" font-weight="normal" fill="#111" stroke="#111" stroke-width="0.12">10-006</text>
<line x1="477" y1="290.4" x2="487.4" y2="290.4" stroke="#a8b0e0" stroke-width="1.2" />
<polygon points="482.2,287.9 484.7,290.4 482.2,292.9 479.7,290.4" fill="#1a1ad8"/>
<text x="492.8" y="293.1" font-size="8.2" text-anchor="start" font-weight="normal" fill="#111" stroke="#111" stroke-width="0.12">20-002</text>
<line x1="477" y1="301.35" x2="487.4" y2="301.35" stroke="#000" stroke-width="2.2" />
<polygon points="482.2,303.65 484.4,299.65 480,299.65" fill="#000"/>
<text x="492.8" y="304.05" font-size="8.2" text-anchor="start" font-weight="normal" fill="#111" stroke="#111" stroke-width="0.12">Median</text>
</svg></body></html>
